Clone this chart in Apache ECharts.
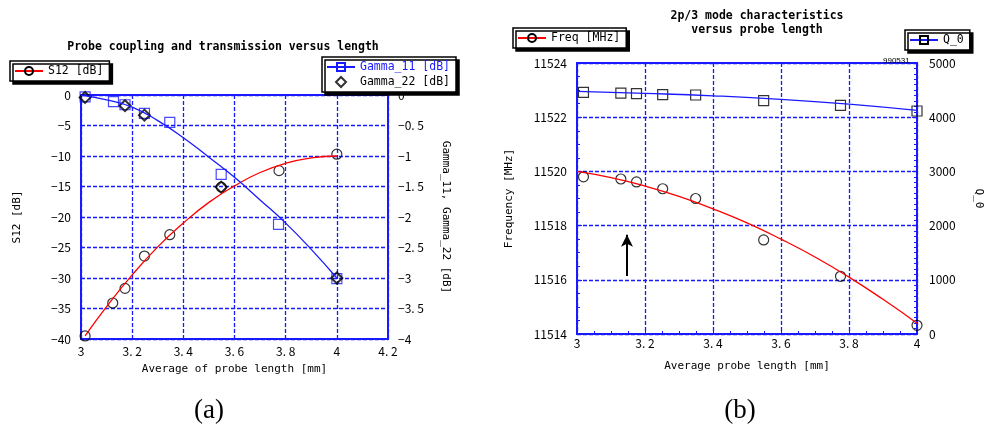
<!DOCTYPE html>
<html lang="en">
<head>
  <meta charset="UTF-8">
  <title>Probe coupling and 2p/3 mode characteristics</title>
</head>
<body>
<div id="chart"></div>
<style>
  html, body {
    margin: 0;
    background: #fff;
  }
  #chart {
    width: 988px;
    height: 425px;
  }
</style>
<script src="https://cdn.jsdelivr.net/npm/echarts@6/dist/echarts.min.js"></script>
<script>
  // (a) probe coupling - measured points
  const aLen = [3.016, 3.124, 3.172, 3.248, 3.347, 3.548, 3.774, 4.0];
  const s12 = [-39.5, -34.1, -31.7, -26.4, -22.9, -15.1, -12.4, -9.7];
  const g11Len = [3.016, 3.127, 3.172, 3.248, 3.347, 3.548, 3.772, 4.0];
  const gamma11 = [-0.03, -0.11, -0.16, -0.30, -0.45, -1.30, -2.12, -3.01];
  const g22Len = [3.016, 3.172, 3.248, 3.548, 4.0];
  const gamma22 = [-0.04, -0.175, -0.33, -1.51, -3.0];
  // (a) fitted curves
  const s12FitLen = [3.016, 3.1, 3.2, 3.3, 3.4, 3.5, 3.6, 3.7, 3.8, 3.9, 4.0];
  const s12Fit = [-39.5, -34.7, -29.5, -24.9, -21.0, -17.6, -14.9, -12.7, -11.2, -10.3, -10.0];
  const g11FitLen = [3.0, 3.1, 3.2, 3.3, 3.4, 3.5, 3.6, 3.7, 3.8, 3.9, 4.0];
  const g11Fit = [0, -0.08, -0.2, -0.42, -0.7, -1.02, -1.35, -1.72, -2.1, -2.53, -3.0];

  // (b) 2p/3 mode - measured points
  const bLen = [3.019, 3.129, 3.175, 3.252, 3.349, 3.549, 3.775, 4.0];
  const freq = [11519.8, 11519.72, 11519.61, 11519.36, 11519.0, 11517.47, 11516.13, 11514.32];
  const q0 = [4458, 4446, 4434, 4415, 4410, 4305, 4218, 4114];
  // (b) fitted curves
  const freqFitLen = [3.0, 3.1, 3.2, 3.3, 3.4, 3.5, 3.6, 3.7, 3.8, 3.9, 4.0];
  const freqFit = [11520.0, 11519.77, 11519.46, 11519.08, 11518.62, 11518.1, 11517.5, 11516.84, 11516.1, 11515.28, 11514.4];
  const qFitLen = [3.0, 3.2, 3.4, 3.6, 3.8, 4.0];
  const qFit = [4476, 4440, 4395, 4330, 4240, 4125];
  // arrow annotation (data units)
  const arrowX = 3.147;
  const arrowFrom = 11516.14;
  const arrowTo = 11517.66;

  const zip = (xs, ys) => xs.map((x, i) => [x, ys[i]]);

  const BLUE = '#1a1aff';
  const mono = 'DejaVu Sans Mono';
  const lab = 'Noto Sans CJK JP';

  function fmt(v) {
    return String(parseFloat(v.toFixed(2))).replace('-', '\u2212').replace('.', '. ');
  }

  const hollow = { color: 'rgba(255,255,255,0)', borderColor: '#000', borderWidth: 1.2 };

  const splitLine = { show: true, lineStyle: { color: BLUE, width: 1.3, type: [4, 2] } };

  const legendBase = {
    backgroundColor: '#fff',
    borderColor: '#000',
    borderWidth: 1.5,
    shadowColor: '#000',
    shadowOffsetX: 3,
    shadowOffsetY: 3,
    shadowBlur: 0,
    padding: [4, 6, 4, 4],
    itemWidth: 28,
    itemHeight: 10,
    itemGap: 4,
    symbolKeepAspect: true,
    textStyle: { fontFamily: mono, fontSize: 11.5, color: '#000' }
  };

  const chart = echarts.init(document.getElementById('chart'));
  chart.setOption({
    animation: false,
    title: [{
      text: 'Probe coupling and transmission versus length',
      left: 218, top: 36, textAlign: 'center',
      textStyle: { fontFamily: mono, fontWeight: 'bold', fontSize: 11.5, color: '#000' }
    }, {
      text: '2p/3 mode characteristics\nversus probe length',
      left: 752, top: 4, textAlign: 'center',
      textStyle: { fontFamily: mono, fontWeight: 'bold', fontSize: 11.5, lineHeight: 14, color: '#000' }
    }, {
      text: '990531',
      left: 878, top: 52,
      textStyle: { fontFamily: 'Liberation Sans', fontWeight: 'normal', fontSize: 8, color: '#000' }
    }, {
      text: '(a)',
      left: 204, top: 392, textAlign: 'center',
      textStyle: { fontFamily: 'Liberation Serif', fontWeight: 'normal', fontSize: 27, color: '#000' }
    }, {
      text: '(b)',
      left: 735, top: 392, textAlign: 'center',
      textStyle: { fontFamily: 'Liberation Serif', fontWeight: 'normal', fontSize: 27, color: '#000' }
    }],
    legend: [
      Object.assign({}, legendBase, {
        left: 10, top: 61,
        data: ['S12 [dB]']
      }),
      Object.assign({}, legendBase, {
        left: 322, top: 57, orient: 'vertical', itemGap: 3,
        data: [
          { name: 'Gamma_11 [dB]', textStyle: { color: BLUE } },
          { name: 'Gamma_22 [dB]', icon: 'path://M5,0 L10,5 L5,10 L0,5 Z' }
        ]
      }),
      Object.assign({}, legendBase, {
        left: 513, top: 28,
        data: ['Freq [MHz]']
      }),
      Object.assign({}, legendBase, {
        left: 905, top: 30,
        data: ['Q_0']
      })
    ],
    grid: [
      { left: 81, top: 95, width: 307, height: 244, show: true, borderColor: BLUE, borderWidth: 2 },
      { left: 577, top: 63, width: 340, height: 271, show: true, borderColor: BLUE, borderWidth: 2 }
    ],
    xAxis: [{
      gridIndex: 0, type: 'value', min: 3, max: 4.2, interval: 0.2,
      name: 'Average of probe length [mm]', nameLocation: 'middle', nameGap: 25,
      nameTextStyle: { fontFamily: mono, fontSize: 11, color: '#000' },
      axisLine: { lineStyle: { color: BLUE, width: 2 } },
      axisTick: { show: false },
      axisLabel: { fontFamily: lab, fontSize: 12, color: '#000', margin: 6, formatter: fmt },
      splitLine: splitLine
    }, {
      gridIndex: 1, type: 'value', min: 3, max: 4, interval: 0.2,
      name: 'Average probe length [mm]', nameLocation: 'middle', nameGap: 27,
      nameTextStyle: { fontFamily: mono, fontSize: 11, color: '#000' },
      axisLine: { lineStyle: { color: BLUE, width: 2 } },
      axisTick: { show: true, inside: true, length: 5, lineStyle: { color: BLUE } },
      minorTick: { show: true, splitNumber: 4, length: 3, lineStyle: { color: BLUE } },
      axisLabel: { fontFamily: lab, fontSize: 12, color: '#000', margin: 3, formatter: fmt },
      splitLine: splitLine
    }],
    yAxis: [{
      gridIndex: 0, type: 'value', min: -40, max: 0, interval: 5,
      name: 'S12 [dB]', nameLocation: 'middle', nameGap: 58, nameRotate: 90,
      nameTextStyle: { fontFamily: mono, fontSize: 11, color: '#000' },
      axisLine: { lineStyle: { color: BLUE, width: 2 } },
      axisTick: { show: false },
      axisLabel: { fontFamily: lab, fontSize: 12, color: '#000', margin: 10, formatter: fmt },
      splitLine: splitLine
    }, {
      gridIndex: 0, type: 'value', min: -4, max: 0, interval: 0.5, position: 'right',
      name: 'Gamma_11, Gamma_22 [dB]', nameLocation: 'middle', nameGap: 52, nameRotate: -90,
      nameTextStyle: { fontFamily: mono, fontSize: 11, color: '#000' },
      axisLine: { show: true, lineStyle: { color: BLUE, width: 2 } },
      axisTick: { show: false },
      axisLabel: { fontFamily: lab, fontSize: 12, color: '#000', margin: 10, formatter: fmt },
      splitLine: { show: false }
    }, {
      gridIndex: 1, type: 'value', min: 11514, max: 11524, interval: 2,
      name: 'Frequency [MHz]', nameLocation: 'middle', nameGap: 62, nameRotate: 90,
      nameTextStyle: { fontFamily: mono, fontSize: 11, color: '#000' },
      axisLine: { lineStyle: { color: BLUE, width: 2 } },
      axisTick: { show: true, inside: true, length: 5, lineStyle: { color: BLUE } },
      minorTick: { show: true, splitNumber: 4, length: 3, lineStyle: { color: BLUE } },
      axisLabel: { fontFamily: lab, fontSize: 12, color: '#000', margin: 10, formatter: fmt },
      splitLine: splitLine
    }, {
      gridIndex: 1, type: 'value', min: 0, max: 5000, interval: 1000, position: 'right',
      name: 'Q_0', nameLocation: 'middle', nameGap: 56, nameRotate: -90,
      nameTextStyle: { fontFamily: mono, fontSize: 11, color: '#000' },
      axisLine: { show: true, lineStyle: { color: BLUE, width: 2 } },
      axisTick: { show: true, inside: true, length: 5, lineStyle: { color: BLUE } },
      minorTick: { show: true, splitNumber: 10, length: 3, lineStyle: { color: BLUE } },
      axisLabel: { fontFamily: lab, fontSize: 12, color: '#000', margin: 12, formatter: fmt },
      splitLine: { show: false }
    }],
    series: [{
      name: 'S12 [dB]', type: 'line', xAxisIndex: 0, yAxisIndex: 0,
      data: zip(s12FitLen, s12Fit), smooth: true, showSymbol: false,
      symbol: 'circle', symbolSize: 9, itemStyle: hollow,
      lineStyle: { color: '#ff0000', width: 1.3 }, silent: true
    }, {
      name: 'S12 [dB]', type: 'scatter', xAxisIndex: 0, yAxisIndex: 0,
      data: zip(aLen, s12), symbol: 'circle', symbolSize: 10, itemStyle: hollow
    }, {
      name: 'Gamma_11 [dB]', type: 'line', xAxisIndex: 0, yAxisIndex: 1,
      data: zip(g11FitLen, g11Fit), smooth: true, showSymbol: false,
      symbol: 'rect', symbolSize: 9, itemStyle: { color: 'rgba(255,255,255,0)', borderColor: BLUE, borderWidth: 1.2 },
      lineStyle: { color: BLUE, width: 1.3 }, silent: true
    }, {
      name: 'Gamma_11 [dB]', type: 'scatter', xAxisIndex: 0, yAxisIndex: 1,
      data: zip(g11Len, gamma11), symbol: 'rect', symbolSize: 10,
      itemStyle: { color: 'rgba(255,255,255,0)', borderColor: BLUE, borderWidth: 1.2 }
    }, {
      name: 'Gamma_22 [dB]', type: 'scatter', xAxisIndex: 0, yAxisIndex: 1,
      data: zip(g22Len, gamma22), symbol: 'diamond', symbolSize: 11,
      itemStyle: { color: 'rgba(255,255,255,0)', borderColor: '#000', borderWidth: 2 }
    }, {
      name: 'Freq [MHz]', type: 'line', xAxisIndex: 1, yAxisIndex: 2,
      data: zip(freqFitLen, freqFit), smooth: true, showSymbol: false,
      symbol: 'circle', symbolSize: 9, itemStyle: hollow,
      lineStyle: { color: '#ff0000', width: 1.3 }, silent: true
    }, {
      name: 'Freq [MHz]', type: 'scatter', xAxisIndex: 1, yAxisIndex: 2,
      data: zip(bLen, freq), symbol: 'circle', symbolSize: 10, itemStyle: hollow,
      markLine: {
        silent: true, symbol: ['none', 'arrow'], symbolSize: [9, 12], label: { show: false },
        lineStyle: { color: '#000', width: 2, type: 'solid' },
        data: [[{ coord: [arrowX, arrowFrom] }, { coord: [arrowX, arrowTo] }]]
      }
    }, {
      name: 'Q_0', type: 'line', xAxisIndex: 1, yAxisIndex: 3,
      data: zip(qFitLen, qFit), smooth: true, showSymbol: false,
      symbol: 'rect', symbolSize: 9, itemStyle: hollow,
      lineStyle: { color: BLUE, width: 1.3 }, silent: true
    }, {
      name: 'Q_0', type: 'scatter', xAxisIndex: 1, yAxisIndex: 3,
      data: zip(bLen, q0), symbol: 'rect', symbolSize: 10, itemStyle: hollow
    }]
  });
</script>
</body>
</html>
